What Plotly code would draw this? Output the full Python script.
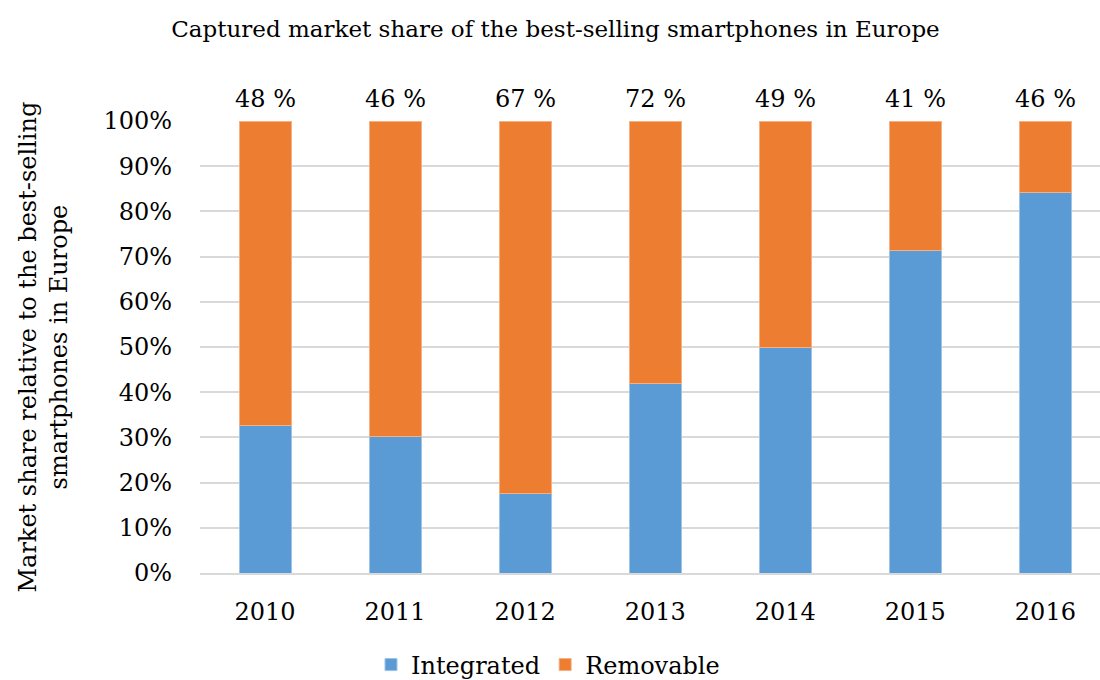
import plotly.graph_objects as go

years = ["2010", "2011", "2012", "2013", "2014", "2015", "2016"]
integrated = [0.327, 0.303, 0.175, 0.420, 0.500, 0.713, 0.841]
removable = [1 - v for v in integrated]
captured_labels = ["48 %", "46 %", "67 %", "72 %", "49 %", "41 %", "46 %"]

FONT = "DejaVu Serif"
BLUE = "#5B9BD5"
ORANGE = "#ED7D31"

fig = go.Figure()
fig.add_trace(go.Bar(x=years, y=integrated, name="Integrated", marker_color=BLUE,
                     marker_line=dict(color="#9DC3E6", width=1), width=0.4))
fig.add_trace(go.Bar(x=years, y=removable, name="Removable", marker_color=ORANGE,
                     marker_line=dict(color="#F4B183", width=1), width=0.4))

for i, lab in enumerate(captured_labels):
    fig.add_annotation(x=i, y=1, xref="x", yref="paper", text=lab, showarrow=False,
                       yanchor="bottom", yshift=6,
                       font=dict(family=FONT, size=24, color="#000000"))

fig.add_annotation(x=-0.175, y=0.5, xref="paper", yref="paper",
                   text="Market share relative to the best-selling<br>smartphones in Europe",
                   textangle=-90, showarrow=False, xanchor="center", yanchor="middle",
                   font=dict(family=FONT, size=24, color="#000000"))

fig.update_layout(
    width=1100, height=680,
    barmode="stack",
    paper_bgcolor="white", plot_bgcolor="white",
    margin=dict(l=200, r=0, t=121, b=107, autoexpand=False),
    title=dict(text="Captured market share of the best-selling smartphones in Europe",
               x=0.505, xanchor="center", y=0.958, yanchor="middle",
               font=dict(family=FONT, size=23, color="#000000")),
    font=dict(family=FONT, color="#000000"),
    legend=dict(orientation="h", x=0.19, xanchor="left", y=-0.2035, yanchor="middle",
                font=dict(family=FONT, size=24, color="#000000"), traceorder="normal"),
    xaxis=dict(type="category", range=[-0.5, 6.42], showgrid=False,
               showline=True, linecolor="#D9D9D9", linewidth=2,
               tickfont=dict(family=FONT, size=24), ticklabelstandoff=16, ticks=""),
    yaxis=dict(range=[0, 1], tickvals=[i / 10 for i in range(11)],
               tickformat=".0%", showgrid=True, gridcolor="#D9D9D9", gridwidth=2,
               zeroline=False, showline=False,
               tickfont=dict(family=FONT, size=24), ticklabelstandoff=27),
)

fig.write_html("out.html", config={"displayModeBar": False},
               post_script="document.body.style.margin='0';")
